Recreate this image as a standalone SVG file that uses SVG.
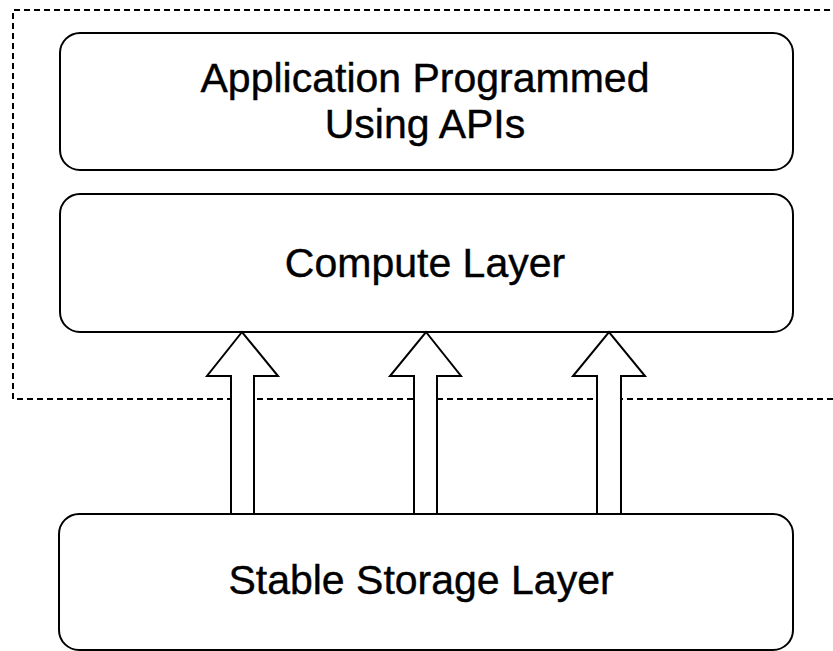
<svg xmlns="http://www.w3.org/2000/svg" width="833" height="651" viewBox="0 0 833 651">
<style>
.box{fill:#fff;stroke:#000;stroke-width:2}
.arrow{fill:#fff;stroke:#000;stroke-width:2;stroke-linejoin:miter}
.dash{fill:none;stroke:#000;stroke-width:2;stroke-dasharray:6 4}
.lbl{font-family:"Liberation Sans",Arial,sans-serif;font-size:41px;fill:#000;stroke:#000;stroke-width:0.4;text-anchor:middle}
</style>
<rect width="833" height="651" fill="#fff"/>
<g id="boundary">
<path class="dash" d="M840,10 H13 V399 H840"/>
</g>
<g id="app">
<rect class="box" x="60" y="33" width="733" height="137" rx="20" ry="20"/>
<text class="lbl" x="425" y="92">Application Programmed</text>
<text class="lbl" x="425" y="138">Using APIs</text>
</g>
<g id="compute">
<rect class="box" x="60" y="194" width="733" height="138" rx="20" ry="20"/>
<text class="lbl" x="425" y="277">Compute Layer</text>
</g>
<g id="storage">
<rect class="box" x="59" y="514" width="734" height="136" rx="20" ry="20"/>
<text class="lbl" x="421" y="594">Stable Storage Layer</text>
</g>
<g id="connectors">
<polygon class="arrow" points="231,514 231,376 207,376 242,332 278,376 254,376 254,514"/>
<polygon class="arrow" points="414,514 414,376 390,376 426,332 461,376 437,376 437,514"/>
<polygon class="arrow" points="597,514 597,376 573,376 609,332 645,376 621,376 621,514"/>
</g>
</svg>
